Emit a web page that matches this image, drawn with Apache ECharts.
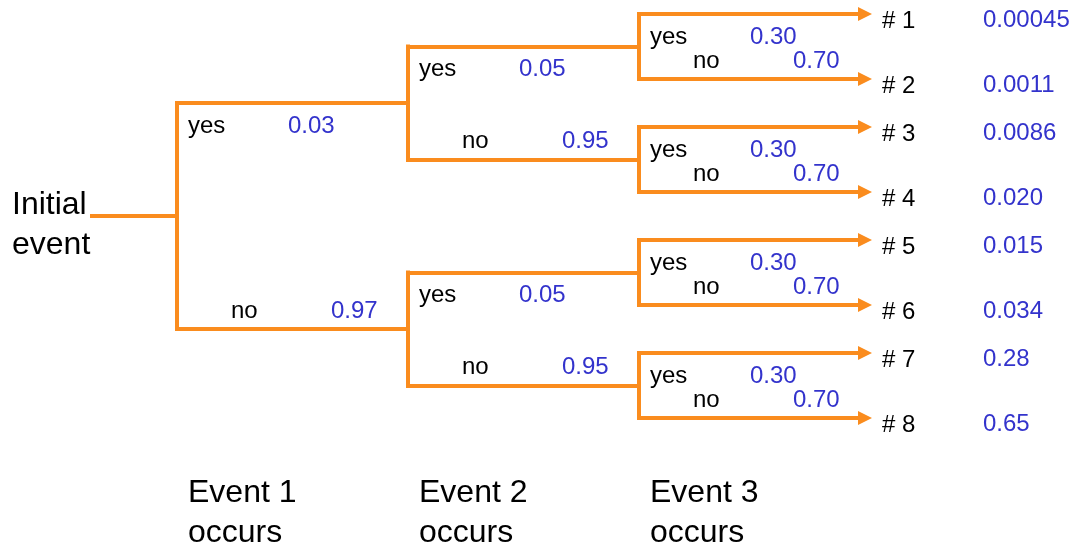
<!DOCTYPE html>
<html>
<head>
<meta charset="utf-8">
<script src="https://cdn.jsdelivr.net/npm/echarts@6/dist/echarts.min.js"></script>
<style>
  html, body { margin: 0; padding: 0; background: #fff; }
  #chart { width: 1076px; height: 546px; }
</style>
</head>
<body>
<div id="chart"></div>
<script>
// --- data ---
const initialLabel = "Initial\nevent";
const eventNames = ["Event 1\noccurs", "Event 2\noccurs", "Event 3\noccurs"];
const branchNames = ["yes", "no"];
const event1Prob = [0.03, 0.97];
const event2Prob = [0.05, 0.95];
const event3Prob = [0.30, 0.70];
const outcomeNames = ["# 1", "# 2", "# 3", "# 4", "# 5", "# 6", "# 7", "# 8"];
const outcomeFreq = [0.00045, 0.0011, 0.0086, 0.020, 0.015, 0.034, 0.28, 0.65];

// --- layout (pixel space of the hidden axes) ---
const W = 1076, H = 546;
const splitX = [177, 408, 639];
const rootStartX = 92;
const arrowEndX = 865;
const leafTop = 14, pairGap = 65, groupStep = 113;
const outcomeX = 882, freqX = 983;
const eventLabelY = 513;

const ORANGE = "#fa8c1e";
const BLUE = "#3333cc";
const FONT = "'Liberation Sans', Arial, sans-serif";

const probs = [event1Prob, event2Prob, event3Prob];

// node y positions per level, leaves first then parents = midpoints
const nodeY = [];
nodeY[3] = outcomeNames.map((_, i) => leafTop + Math.floor(i / 2) * groupStep + (i % 2) * pairGap);
for (let l = 2; l >= 0; l--) {
  nodeY[l] = [];
  for (let j = 0; j < nodeY[l + 1].length; j += 2) {
    nodeY[l].push((nodeY[l + 1][j] + nodeY[l + 1][j + 1]) / 2);
  }
}

const stems = [];
const arrows = [];
const branchText = [];
const probText = [];

stems.push({ coords: [[rootStartX, nodeY[0][0]], [splitX[0], nodeY[0][0]]] });

for (let l = 0; l < 3; l++) {
  nodeY[l].forEach((y, j) => {
    const c0 = nodeY[l + 1][2 * j];
    const c1 = nodeY[l + 1][2 * j + 1];
    const x = splitX[l];
    stems.push({ coords: [[x, c0], [x, c1]] });
    [c0, c1].forEach((cy) => {
      if (l < 2) stems.push({ coords: [[x, cy], [splitX[l + 1], cy]] });
      else arrows.push({ coords: [[x, cy], [arrowEndX, cy]] });
    });
    // yes label below the upper branch, no label above the lower branch
    branchText.push({ name: branchNames[0], value: [x + 11, c0 + 23] });
    probText.push({ name: probs[l][0].toFixed(2), value: [x + 111, c0 + 23] });
    branchText.push({ name: branchNames[1], value: [x + 54, c1 - 18] });
    probText.push({ name: probs[l][1].toFixed(2), value: [x + 154, c1 - 18] });
  });
}

const outcomeText = outcomeNames.map((n, i) => ({ name: n, value: [outcomeX, nodeY[3][i] + 7] }));
const freqText = outcomeFreq.map((f, i) => ({ name: f.toPrecision(2), value: [freqX, nodeY[3][i] + 6] }));
const bigText = [{ name: initialLabel, value: [12, nodeY[0][0] + 9] }]
  .concat(eventNames.map((n, i) => ({ name: n, value: [splitX[i] + 11, eventLabelY] })));

function textSeries(data, color, size, lineHeight) {
  return {
    type: "scatter",
    symbolSize: 0,
    silent: true,
    itemStyle: { color: "transparent" },
    label: {
      show: true,
      position: "right",
      distance: 0,
      formatter: "{b}",
      color: color,
      opacity: 1,
      textBorderWidth: 0,
      fontSize: size,
      fontFamily: FONT,
      lineHeight: lineHeight,
      align: "left",
      verticalAlign: "middle",
    },
    data: data,
    z: 5,
  };
}

const chart = echarts.init(document.getElementById("chart"));
chart.setOption({
  animation: false,
  backgroundColor: "#fff",
  grid: { left: 0, right: 0, top: 0, bottom: 0 },
  xAxis: { type: "value", min: 0, max: W, show: false },
  yAxis: { type: "value", min: 0, max: H, inverse: true, show: false },
  series: [
    {
      type: "lines",
      coordinateSystem: "cartesian2d",
      silent: true,
      symbol: "none",
      lineStyle: { color: ORANGE, width: 4, opacity: 1, curveness: 0, cap: "square" },
      data: stems,
    },
    {
      type: "lines",
      coordinateSystem: "cartesian2d",
      silent: true,
      symbol: ["none", "triangle"],
      symbolSize: 14,
      lineStyle: { color: ORANGE, width: 4, opacity: 1, curveness: 0, cap: "butt" },
      data: arrows,
    },
    textSeries(branchText, "#000", 24, 28),
    textSeries(probText, BLUE, 24, 28),
    textSeries(outcomeText, "#000", 24, 28),
    textSeries(freqText, BLUE, 24, 28),
    textSeries(bigText, "#000", 32, 40),
  ],
});
</script>
</body>
</html>
